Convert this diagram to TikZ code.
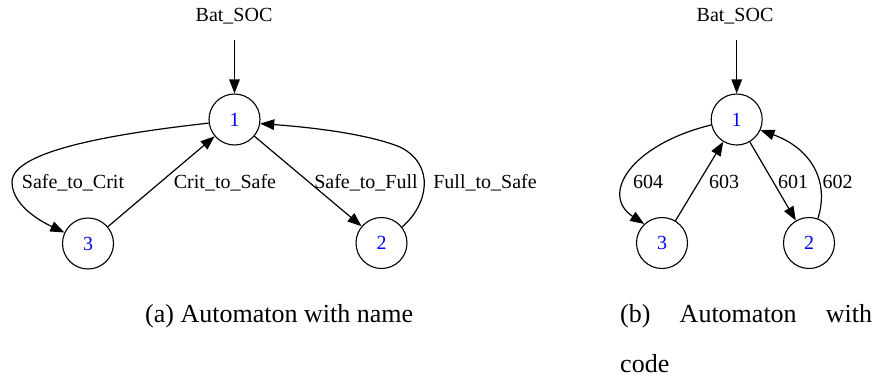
\documentclass[tikz,border=0pt]{standalone}
\usepackage{fontspec}
\setmainfont{Liberation Serif}
\usetikzlibrary{arrows.meta}

\definecolor{statenum}{RGB}{0,0,255}

\begin{document}
\begin{tikzpicture}[x=1pt,y=-1pt,
  state/.style={circle,draw,line width=1.1pt,minimum size=51pt,inner sep=0pt,
    text=statenum,font=\fontsize{20}{24}\selectfont},
  lbl/.style={anchor=base,inner sep=0pt,font=\fontsize{20}{24}\selectfont},
  trans/.style={line width=1.2pt,-{Triangle[length=14pt,width=10.5pt]}},
  captxt/.style={anchor=base west,inner sep=0pt,font=\fontsize{26}{50}\selectfont}]
\useasboundingbox (0,0) rectangle (876,381);

% ---- (a) automaton with transition names ----
\node[lbl] (La) at (234,21) {Bat\_SOC};
\node[state] (L1) at (234.5,119.5) {1};
\node[state] (L3) at (88,243.5) {3};
\node[state] (L2) at (381.5,243) {2};

\draw[trans] (234.5,40) -- (L1.north);
\draw[trans] (L1.188) .. controls (120,133) and (12,150) .. (12,182)
                    .. controls (12,205) and (40,221) .. (L3.155);
\draw[trans] (L3) -- (L1);
\draw[trans] (L1) -- (L2);
\draw[trans] (L2.38) .. controls (428,205) and (436,165) .. (400,147)
                   .. controls (370,135) and (320,128) .. (L1.351);

\node[lbl] (lsc) at (73,188) {Safe\_to\_Crit};
\node[lbl] (lcs) at (225,188) {Crit\_to\_Safe};
\node[lbl] (lsf) at (366,188) {Safe\_to\_Full};
\node[lbl] (lfs) at (485,188) {Full\_to\_Safe};

\node[captxt] (capa) at (145,322) {(a) Automaton with name};

% ---- (b) automaton with transition codes ----
\node[lbl] (Ra) at (735,21) {Bat\_SOC};
\node[state] (R1) at (736.7,119.5) {1};
\node[state] (R3) at (662,243) {3};
\node[state] (R2) at (809,243) {2};

\draw[trans] (736.7,40) -- (R1.north);
\draw[trans] (R1.192) .. controls (630,145) and (600,195) .. (R3.133);
\draw[trans] (R3) -- (R1);
\draw[trans] (R1) -- (R2);
\draw[trans] (R2.70) .. controls (830,180) and (810,148) .. (R1.336);

\node[lbl] (l604) at (648,188) {604};
\node[lbl] (l603) at (724,188) {603};
\node[lbl] (l601) at (793,188) {601};
\node[lbl] (l602) at (837.5,188) {602};

\node[captxt] (capb) at (620,322)
  {\parbox[t]{252pt}{\fontsize{26}{50}\selectfont (b) Automaton with\linebreak code}};
\end{tikzpicture}
\end{document}
